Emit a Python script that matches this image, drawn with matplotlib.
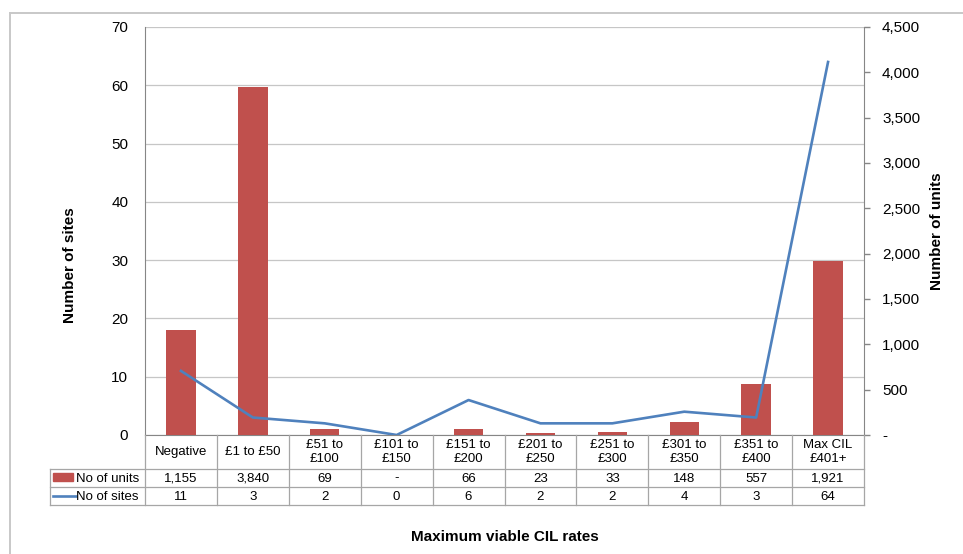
import matplotlib
matplotlib.use("Agg")
import matplotlib.pyplot as plt
import matplotlib.transforms as mtransforms
from matplotlib.lines import Line2D
from matplotlib.patches import Rectangle
from matplotlib.ticker import FuncFormatter

plt.rcParams['font.family'] = ['Liberation Sans', 'DejaVu Sans']

categories = ["Negative", "£1 to £50", "£51 to\n£100", "£101 to\n£150", "£151 to\n£200",
              "£201 to\n£250", "£251 to\n£300", "£301 to\n£350", "£351 to\n£400", "Max CIL\n£401+"]
units = [1155, 3840, 69, 0, 66, 23, 33, 148, 557, 1921]
units_labels = ["1,155", "3,840", "69", "-", "66", "23", "33", "148", "557", "1,921"]
sites = [11, 3, 2, 0, 6, 2, 2, 4, 3, 64]
sites_labels = ["11", "3", "2", "0", "6", "2", "2", "4", "3", "64"]
left_ticks = [0, 10, 20, 30, 40, 50, 60, 70]
right_ticks = [0, 500, 1000, 1500, 2000, 2500, 3000, 3500, 4000, 4500]

W, H = 963, 554
BAR = "#C0504D"
LINE = "#4F81BD"
GRID = "#C6C6C6"
AXC = "#868686"
TBL = "#A6A6A6"

def fx(px):
    return px / W

def fy(py):
    return 1 - py / H

fig = plt.figure(figsize=(W / 100, H / 100), dpi=100)
L, R, T, B = 145, 864, 27, 435
ax = fig.add_axes([fx(L), fy(B), (R - L) / W, (B - T) / H])
n = len(categories)
xs = list(range(n))

# base axes: sites scale, gridlines
ax.set_xlim(-0.5, n - 0.5)
ax.set_ylim(0, 70)
ax.set_yticks(left_ticks)
ax.yaxis.grid(True, color=GRID, linewidth=0.9)
ax.set_axisbelow(True)
ax.tick_params(axis='y', length=0, pad=12, labelsize=11, colors='#000000')
ax.tick_params(axis='x', length=0, labelbottom=False)
for s in ['top', 'right']:
    ax.spines[s].set_visible(False)
ax.spines['left'].set_color(AXC)
ax.spines['bottom'].set_color(AXC)

# bars: units scale
ax2 = ax.twinx()
ax2.bar(xs, units, width=0.41, color=BAR, zorder=2)
ax2.set_ylim(0, 4500)
ax2.set_yticks(right_ticks)
ax2.yaxis.set_major_formatter(FuncFormatter(lambda v, p: "-" if v == 0 else f"{int(v):,}"))
ax2.tick_params(axis='y', length=4, width=1, color=AXC, pad=9, labelsize=11)
for s in ['top', 'left', 'bottom']:
    ax2.spines[s].set_visible(False)
ax2.spines['right'].set_color(AXC)
ax2.patch.set_visible(False)

# line: sites scale
ax3 = ax.twinx()
ax3.plot(xs, sites, color=LINE, linewidth=1.9, zorder=3)
ax3.set_ylim(0, 70)
ax3.set_yticks([])
for s in ax3.spines.values():
    s.set_visible(False)
ax3.patch.set_visible(False)

# axis labels
fig.text(fx(70), fy(265), "Number of sites", rotation=90, ha='center', va='center',
         fontsize=11, fontweight='bold')
fig.text(fx(937), fy(231), "Number of units", rotation=90, ha='center', va='center',
         fontsize=11, fontweight='bold')
fig.text(fx(505), fy(537), "Maximum viable CIL rates", ha='center', va='center',
         fontsize=11, fontweight='bold')

# data table
bt = mtransforms.blended_transform_factory(ax.transData, fig.transFigure)
ft = fig.transFigure
rows_y = [B, 469, 487, 505]
for i in range(n + 1):
    xb = i - 0.5
    fig.add_artist(Line2D([xb, xb], [fy(B), fy(505)], color=TBL, linewidth=0.9, transform=bt))
for yy in rows_y[1:]:
    fig.add_artist(Line2D([fx(50), fx(R)], [fy(yy), fy(yy)], color=TBL, linewidth=0.9, transform=ft))
fig.add_artist(Line2D([fx(50), fx(50)], [fy(469), fy(505)], color=TBL, linewidth=0.9, transform=ft))

for i in range(n):
    fig.text(i, fy(452), categories[i], transform=bt, ha='center', va='center',
             fontsize=9.5, linespacing=1.15)
    fig.text(i, fy(478.5), units_labels[i], transform=bt, ha='center', va='center', fontsize=9.5)
    fig.text(i, fy(496.5), sites_labels[i], transform=bt, ha='center', va='center', fontsize=9.5)

fig.add_artist(Rectangle((fx(53), fy(481)), fx(73) - fx(53), fy(473) - fy(481),
                         color=BAR, transform=ft))
fig.add_artist(Line2D([fx(53), fx(76)], [fy(496), fy(496)], color=LINE, linewidth=1.9, transform=ft))
fig.text(fx(76), fy(478.5), "No of units", ha='left', va='center', fontsize=9.5)
fig.text(fx(76), fy(496.5), "No of sites", ha='left', va='center', fontsize=9.5)

# chart area frame
fig.add_artist(Line2D([fx(10), fx(963)], [fy(13), fy(13)], color='#C8C8C8', linewidth=1.4, transform=ft))
fig.add_artist(Line2D([fx(10), fx(10)], [fy(13), fy(554)], color='#C8C8C8', linewidth=1.4, transform=ft))

fig.savefig("out.png", dpi=100)
